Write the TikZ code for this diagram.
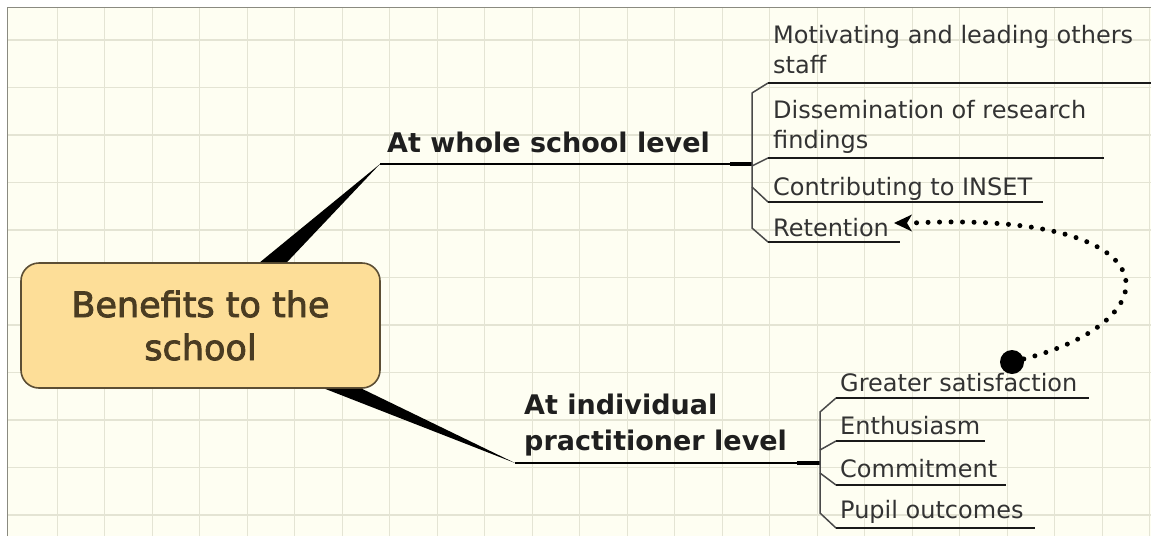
\documentclass[tikz,border=0pt]{standalone}
\usepackage{fontspec}
\setmainfont{DejaVu Sans}
\newfontfamily\rootfont[FakeBold=2.5]{DejaVu Sans}
\usetikzlibrary{arrows.meta}
\definecolor{paper}{HTML}{FEFEF2}
\definecolor{gridc}{HTML}{E4E4D4}
\definecolor{framec}{HTML}{8A8A80}
\definecolor{rootfill}{HTML}{FDDE98}
\definecolor{rootdraw}{HTML}{5C4E34}
\definecolor{roottext}{HTML}{4A3C22}
\definecolor{txt}{HTML}{333333}
\definecolor{brk}{HTML}{4A4A4A}
\tikzset{
  gridline/.style={draw=gridc, line width=1.3pt},
  rootbox/.style={draw=rootdraw, line width=1.6pt, fill=rootfill, rounded corners=18pt,
    minimum width=359pt, minimum height=125pt, inner sep=0pt, align=center,
    text=roottext, font=\rootfont\fontsize{35}{43}\selectfont},
  branchlbl/.style={inner sep=0pt, align=left, text=black!88, font=\fontsize{27}{36}\selectfont\bfseries},
  leaflbl/.style={inner sep=0pt, align=left, text=txt, font=\fontsize{24}{30}\selectfont},
  wedge/.style={fill=black},
  branchline/.style={draw=black, line width=1.6pt},
  thickbit/.style={draw=black, line width=3.5pt},
  bracketline/.style={draw=brk, line width=1.5pt, line join=round},
  uline/.style={draw=black!90, line width=1.5pt},
  relation/.style={draw=black, line width=5pt, line cap=round, dash pattern=on 0pt off 11.5pt},
  arrowhead/.style={fill=black, line join=miter},
}
\begin{document}
\begin{tikzpicture}[x=1pt,y=-1pt]
\useasboundingbox (0,0) rectangle (1151,536);
\fill[white] (0,0) rectangle (1151,536);
\fill[paper] (7.5,7.5) rectangle (1151,536);
\foreach \i in {0,...,23} \draw[gridline] ({57.3+47.5*\i},7.5) -- ({57.3+47.5*\i},536);
\foreach \j in {0,...,10} \draw[gridline] (7.5,{40+47.5*\j}) -- (1151,{40+47.5*\j});
\draw[framec, line width=1.5pt] (7.5,536) -- (7.5,7.5) -- (1151,7.5);

% central topic
\node[rootbox] (root) at (200.5,325.5) {Benefits to the\\school};

% main topics (base anchor = baseline of last line)
\node[branchlbl, anchor=base west] (whole) at (387,152) {At whole school level};
\node[branchlbl, anchor=base west] (indiv) at (524,450) {At individual\\practitioner level};

\coordinate (wt) at (380,164);
\coordinate (tj) at (752,164);
\coordinate (bt) at (515,463);
\coordinate (bj) at (820,463);

\fill[wedge] ([xshift=59.5pt]root.north) -- ([xshift=86.5pt]root.north) -- (wt) -- cycle;
\fill[wedge] ([xshift=124.5pt]root.south) -- ([xshift=161.5pt]root.south) -- (bt) -- cycle;
\draw[branchline] (wt) -- (tj);
\draw[thickbit] ([xshift=-22pt]tj) -- (tj);
\draw[branchline] (bt) -- (bj);
\draw[thickbit] ([xshift=-23pt]bj) -- (bj);

% subtopics, top group
\node[leaflbl, anchor=base west] (mot) at (773,73) {Motivating and leading others\\staff};
\node[leaflbl, anchor=base west] (dis) at (773,148) {Dissemination of research\\findings};
\node[leaflbl, anchor=base west] (con) at (773,195) {Contributing to INSET};
\node[leaflbl, anchor=base west] (ret) at (773,236) {Retention};

\draw[bracketline] (768,83) -- (752,93) -- (752,228) -- (768,242);
\draw[bracketline] (752,166) -- (768,158);
\draw[bracketline] (752,187) -- (768,202);
\draw[uline] (768,83) -- (1151,83);
\draw[uline] (768,158) -- (1104,158);
\draw[uline] (768,202) -- (1043,202);
\draw[uline] (768,242) -- (900,242);

% subtopics, bottom group
\node[leaflbl, anchor=base west] (gre) at (840,391) {Greater satisfaction};
\node[leaflbl, anchor=base west] (ent) at (840,434) {Enthusiasm};
\node[leaflbl, anchor=base west] (com) at (840,477) {Commitment};
\node[leaflbl, anchor=base west] (pup) at (840,518) {Pupil outcomes};

\draw[bracketline] (836,398) -- (820,412) -- (820,513) -- (836,528);
\draw[bracketline] (820,450) -- (836,441);
\draw[bracketline] (820,473) -- (836,485);
\draw[uline] (836,398) -- (1089,398);
\draw[uline] (836,441) -- (985,441);
\draw[uline] (836,485) -- (1006,485);
\draw[uline] (836,528) -- (1035,528);

% relationship
\node[circle, fill=black, minimum size=24pt, inner sep=0pt] (dot) at (1012,362) {};
\coordinate (rettip) at (894,223);
\coordinate (retback) at (912,223);
\draw[relation] (dot) .. controls (1175,320) and (1175,210) .. (retback);
\fill[arrowhead] (rettip) -- ++(18,-8.5) -- ++(-5,8.5) -- ++(5,8.5) -- cycle;
\end{tikzpicture}
\end{document}
